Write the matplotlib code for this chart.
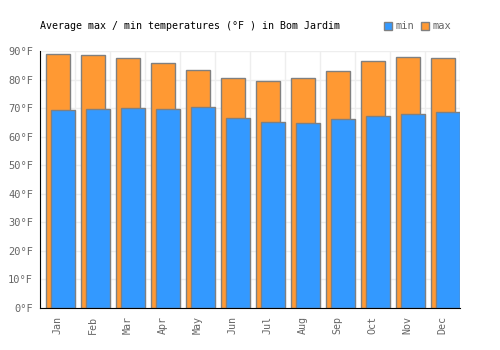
import matplotlib
matplotlib.use("Agg")
import matplotlib.pyplot as plt
import numpy as np
from matplotlib.patches import Patch

months = ["Jan", "Feb", "Mar", "Apr", "May", "Jun", "Jul", "Aug", "Sep", "Oct", "Nov", "Dec"]
max_temp = [89.0, 88.7, 87.6, 85.9, 83.4, 80.6, 79.6, 80.6, 83.1, 86.6, 88.0, 87.6]
min_temp = [69.3, 69.7, 70.1, 69.7, 70.5, 66.6, 65.2, 64.8, 66.2, 67.2, 68.0, 68.7]
yticks = [0, 10, 20, 30, 40, 50, 60, 70, 80, 90]

plt.rcParams['font.family'] = ['DejaVu Sans Mono']

fig = plt.figure(figsize=(5, 3.5), dpi=100)
ax = fig.add_axes([0.08, 0.12, 0.84, 0.733])

x = np.arange(len(months))
edge = '#808080'
ax.bar(x + 0.51, max_temp, width=0.67, color='#ff9933', edgecolor=edge, linewidth=1, zorder=3)
ax.bar(x + 0.66, min_temp, width=0.70, color='#3399ff', edgecolor=edge, linewidth=1, zorder=4)

ax.set_xlim(0, 12)
ax.set_ylim(0, 90)
ax.set_yticks(yticks)
ax.set_yticklabels([f"{v}°F" for v in yticks], color='#666666', fontsize=7.5)
ax.set_xticks(x + 0.5)
ax.set_xticklabels(months, rotation=90, color='#666666', fontsize=7.2)
ax.set_xticks(np.arange(0, 13), minor=True)
ax.tick_params(axis='both', which='both', length=0)
ax.tick_params(axis='y', pad=5)
ax.tick_params(axis='x', pad=6)

ax.grid(True, axis='y', color='#eeeeee', linewidth=1, zorder=0)
ax.grid(True, axis='x', which='minor', color='#eeeeee', linewidth=1, zorder=0)
ax.grid(False, axis='x', which='major')

for s in ['top', 'right']:
    ax.spines[s].set_visible(False)
ax.spines['left'].set_color('black')
ax.spines['bottom'].set_color('black')
ax.spines['left'].set_zorder(6)
ax.spines['bottom'].set_zorder(6)

fig.text(0.08, 0.925, "Average max / min temperatures (°F ) in Bom Jardim",
         fontsize=7.2, color='black', ha='left', va='center')

handles = [Patch(facecolor='#3399ff', edgecolor=edge, label='min'),
           Patch(facecolor='#ff9933', edgecolor=edge, label='max')]
fig.legend(handles=handles, loc='center right', bbox_to_anchor=(0.912, 0.925),
           ncol=2, frameon=False, fontsize=7.5, handlelength=0.8, handleheight=0.8,
           handletextpad=0.3, columnspacing=0.6, labelcolor='#666666', borderpad=0)

fig.savefig("out.png", dpi=100)
